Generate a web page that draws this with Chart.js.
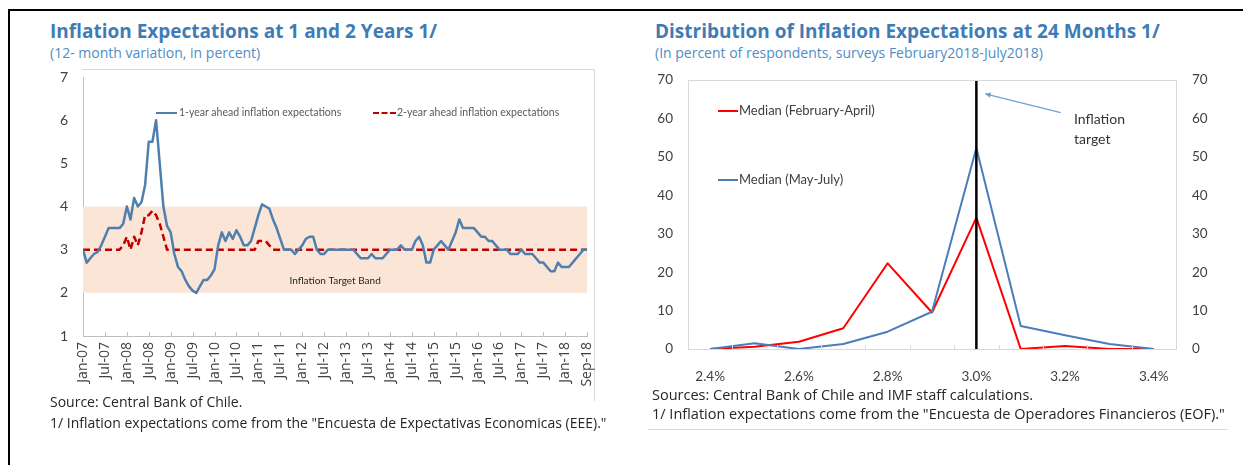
<!DOCTYPE html>
<html>
<head>
<meta charset="utf-8">
<script src="https://cdn.jsdelivr.net/npm/chart.js@4.4.0/dist/chart.umd.min.js"></script>
<style>
  body { margin: 0; width: 1243px; height: 465px; background: #fff; position: relative; overflow: hidden; font-family: "Open Sans", "Noto Sans", sans-serif; }
  .abs { position: absolute; white-space: nowrap; }
  .title { font-weight: bold; font-size: 19px; color: #3f7cb6; }
  .sub { font-size: 14px; color: #4f8dc6; }
  .foot { font-size: 14px; color: #262626; }
  .foot2 { font-size: 14.5px; color: #262626; }
  .leg { font-size: 10.5px; color: #595959; font-family: Lato, sans-serif; }
  .leg2 { font-size: 13px; color: #404040; font-family: Lato, sans-serif; }
  canvas { position: absolute; }
</style>
</head>
<body>
<div class="abs" style="left:8px;top:9px;width:1235px;border-top:2px solid #000"></div>
<div class="abs" style="left:8px;top:9px;height:456px;border-left:2px solid #000"></div>

<!-- left panel -->
<div class="abs title" style="left:50px;top:18px">Inflation Expectations at 1 and 2 Years 1/</div>
<div class="abs sub" style="left:50px;top:43px">(12- month variation, in percent)</div>
<div class="abs" style="left:82px;top:69px;width:512px;height:331px;border-top:1px solid #d9d9d9;border-right:1px solid #d9d9d9"></div>
<canvas id="leftChart" width="570" height="350" style="left:40px;top:60px"></canvas>
<div class="abs" style="left:156px;top:112px;width:21px;border-top:2.5px solid #4e7fae"></div>
<div class="abs leg" style="left:179px;top:106px">1-year ahead inflation expectations</div>
<div class="abs" style="left:373px;top:112px;width:23px;border-top:2.5px dashed #c00000"></div>
<div class="abs leg" style="left:397px;top:106px">2-year ahead inflation expectations</div>
<div class="abs foot" style="left:50px;top:392px">Source: Central Bank of Chile.</div>
<div class="abs foot" style="left:50px;top:413px">1/ Inflation expectations come from the "Encuesta de Expectativas Economicas (EEE)."</div>

<!-- right panel -->
<div class="abs title" style="left:655px;top:18px">Distribution of Inflation Expectations at 24 Months 1/</div>
<div class="abs sub" style="left:655px;top:43px">(In percent of respondents, surveys February2018-July2018)</div>
<canvas id="rightChart" width="600" height="330" style="left:640px;top:65px"></canvas>
<div class="abs" style="left:718px;top:110px;width:20px;border-top:2px solid #ff0000"></div>
<div class="abs leg2" style="left:739px;top:102px">Median (February-April)</div>
<div class="abs" style="left:718px;top:179px;width:20px;border-top:2px solid #4a7ebb"></div>
<div class="abs leg2" style="left:739px;top:171px">Median (May-July)</div>
<div class="abs foot2" style="left:652px;top:385px">Sources: Central Bank of Chile and IMF staff calculations.</div>
<div class="abs foot2" style="left:652px;top:404px">1/ Inflation expectations come from the "Encuesta de Operadores Financieros (EOF)."</div>
<div class="abs" style="left:648px;top:429px;width:580px;border-top:1px solid #d9d9d9"></div>

<script>
// left chart: monthly data Jan-07 .. Jul-18, tick every 6 months
const monthTickLabels = ['Jan-07','Jul-07','Jan-08','Jul-08','Jan-09','Jul-09','Jan-10','Jul-10',
  'Jan-11','Jul-11','Jan-12','Jul-12','Jan-13','Jul-13','Jan-14','Jul-14','Jan-15','Jul-15',
  'Jan-16','Jul-16','Jan-17','Jul-17','Jan-18','Sep-18'];
const oneYearAhead = [
  3.0, 2.7, 2.8, 2.9, 2.95, 3.1, 3.3, 3.5, 3.5, 3.5, 3.5, 3.6,
  4.0, 3.7, 4.2, 4.0, 4.1, 4.5, 5.5, 5.5, 6.0, 5.0, 4.0, 3.55,
  3.4, 2.9, 2.6, 2.5, 2.3, 2.15, 2.05, 2.0, 2.15, 2.3, 2.3, 2.4,
  2.55, 3.1, 3.4, 3.2, 3.4, 3.25, 3.45, 3.3, 3.1, 3.1, 3.2, 3.5,
  3.8, 4.05, 4.0, 3.95, 3.7, 3.5, 3.25, 3.0, 3.0, 3.0, 2.9, 3.0,
  3.1, 3.25, 3.3, 3.3, 3.0, 2.9, 2.9, 3.0, 3.0, 3.0, 3.0, 3.0,
  3.0, 3.0, 3.0, 2.9, 2.8, 2.8, 2.8, 2.9, 2.8, 2.8, 2.8, 2.9,
  3.0, 3.0, 3.0, 3.1, 3.0, 3.0, 3.0, 3.2, 3.3, 3.1, 2.7, 2.7,
  3.0, 3.1, 3.2, 3.1, 3.0, 3.2, 3.4, 3.7, 3.5, 3.5, 3.5, 3.5,
  3.4, 3.3, 3.3, 3.2, 3.2, 3.1, 3.0, 3.0, 3.0, 2.9, 2.9, 2.9,
  3.0, 2.9, 2.9, 2.9, 2.8, 2.7, 2.7, 2.6, 2.5, 2.5, 2.7, 2.6,
  2.6, 2.6, 2.7, 2.8, 2.9, 3.0, 3.0
];
const twoYearAhead = [
  3.0, 3.0, 3.0, 3.0, 3.0, 3.0, 3.0, 3.0, 3.0, 3.0, 3.0, 3.1,
  3.3, 3.0, 3.3, 3.1, 3.4, 3.8, 3.8, 3.9, 3.8, 3.6, 3.3, 3.0,
  3.0, 3.0, 3.0, 3.0, 3.0, 3.0, 3.0, 3.0, 3.0, 3.0, 3.0, 3.0,
  3.0, 3.0, 3.0, 3.0, 3.0, 3.0, 3.0, 3.0, 3.0, 3.0, 3.0, 3.0,
  3.2, 3.2, 3.2, 3.1, 3.0, 3.0, 3.0, 3.0, 3.0, 3.0, 3.0, 3.0,
  3.0, 3.0, 3.0, 3.0, 3.0, 3.0, 3.0, 3.0, 3.0, 3.0, 3.0, 3.0,
  3.0, 3.0, 3.0, 3.0, 3.0, 3.0, 3.0, 3.0, 3.0, 3.0, 3.0, 3.0,
  3.0, 3.0, 3.0, 3.0, 3.0, 3.0, 3.0, 3.0, 3.0, 3.0, 3.0, 3.0,
  3.0, 3.0, 3.0, 3.0, 3.0, 3.0, 3.0, 3.0, 3.0, 3.0, 3.0, 3.0,
  3.0, 3.0, 3.0, 3.0, 3.0, 3.0, 3.0, 3.0, 3.0, 3.0, 3.0, 3.0,
  3.0, 3.0, 3.0, 3.0, 3.0, 3.0, 3.0, 3.0, 3.0, 3.0, 3.0, 3.0,
  3.0, 3.0, 3.0, 3.0, 3.0, 3.0, 3.0
];
const bandLow = 2;
const bandHigh = 4;

// right chart
const rateCategories = ['2.4%','2.5%','2.6%','2.7%','2.8%','2.9%','3.0%','3.1%','3.2%','3.3%','3.4%'];
const medianFebApr = [0, 0.6, 1.9, 5.4, 22.3, 9.5, 34.2, 0, 0.8, 0, 0];
const medianMayJul = [0, 1.5, 0, 1.3, 4.5, 9.7, 52.3, 6.0, 3.6, 1.3, 0];
const targetRate = '3.0%';

const lastIdx = oneYearAhead.length - 1;
const toPts = arr => arr.map((v, i) => ({ x: i, y: v }));
// vertical scales: drop the extra label padding so layout.padding decides the top
const noPad = w => s => { s.width = w; s.paddingTop = 0; s.paddingBottom = 0; };

const leftExtras = {
  id: 'leftExtras',
  afterDraw(chart) {
    const { ctx, scales: { x, y } } = chart;
    ctx.save();
    ctx.strokeStyle = '#bfbfbf';
    ctx.lineWidth = 1;
    x.ticks.forEach(t => {
      const px = Math.round(x.getPixelForValue(t.value)) + 0.5;
      ctx.beginPath();
      ctx.moveTo(px, y.bottom);
      ctx.lineTo(px, y.bottom - 4);
      ctx.stroke();
    });
    ctx.fillStyle = '#262626';
    ctx.font = '10px Lato, "Noto Sans", sans-serif';
    ctx.textAlign = 'center';
    ctx.textBaseline = 'middle';
    ctx.fillText('Inflation Target Band', x.getPixelForValue(69), y.getPixelForValue(2.27));
    ctx.restore();
  }
};

new Chart(document.getElementById('leftChart'), {
  type: 'line',
  data: {
    datasets: [
      { data: toPts(twoYearAhead), borderColor: '#c00000', borderWidth: 2.5, borderDash: [7, 4],
        borderJoinStyle: 'round', pointRadius: 0, tension: 0, fill: false, order: 1 },
      { data: toPts(oneYearAhead), borderColor: '#4e7fae', borderWidth: 2.5, borderJoinStyle: 'round',
        pointRadius: 0, tension: 0, fill: false, order: 0 },
      { data: [{ x: 0, y: bandHigh }, { x: lastIdx, y: bandHigh }], borderWidth: 0, borderColor: 'rgba(0,0,0,0)',
        backgroundColor: '#fbe5d6', pointRadius: 0, fill: '+1', order: 3 },
      { data: [{ x: 0, y: bandLow }, { x: lastIdx, y: bandLow }], borderWidth: 0, borderColor: 'rgba(0,0,0,0)',
        pointRadius: 0, fill: false, order: 3 }
    ]
  },
  options: {
    responsive: false,
    animation: false,
    layout: { padding: { top: 17, right: 22, left: 0, bottom: 0 } },
    plugins: { legend: { display: false }, tooltip: { enabled: false } },
    scales: {
      x: {
        type: 'linear', min: 0, max: lastIdx,
        afterBuildTicks: s => { s.ticks = monthTickLabels.map((l, i) => ({ value: i * 6 })); },
        afterFit: s => { s.height = 74; },
        grid: { display: false, drawTicks: false },
        border: { display: true, color: '#bfbfbf' },
        ticks: {
          autoSkip: false, minRotation: 90, maxRotation: 90, padding: 6,
          color: '#404040', font: { size: 14, family: '"Open Sans", "Noto Sans", sans-serif' },
          callback: v => monthTickLabels[Math.round(v / 6)]
        }
      },
      y: {
        min: 1, max: 7,
        afterFit: noPad(43),
        grid: { display: false, drawTicks: false },
        border: { display: true, color: '#bfbfbf' },
        ticks: { stepSize: 1, padding: 15, color: '#404040', font: { size: 14, family: 'Lato, "Noto Sans", sans-serif' } }
      }
    }
  },
  plugins: [leftExtras]
});

const rightExtras = {
  id: 'rightExtras',
  afterDraw(chart) {
    const { ctx, chartArea: a, scales: { x, y } } = chart;
    ctx.save();
    ctx.strokeStyle = '#d9d9d9';
    ctx.lineWidth = 1;
    ctx.strokeRect(a.left + 0.5, a.top + 0.5, a.right - a.left, a.bottom - a.top);
    // inner tick marks between categories
    for (let i = 0; i <= rateCategories.length; i++) {
      const px = Math.round(x.getPixelForValue(i - 0.5)) + 0.5;
      ctx.beginPath();
      ctx.moveTo(px, a.bottom);
      ctx.lineTo(px, a.bottom - 4);
      ctx.stroke();
    }
    // inflation target annotation
    const tx = x.getPixelForValue(7.9), ty = y.getPixelForValue(61.5);
    const hx = x.getPixelForValue(6.2), hy = y.getPixelForValue(66.4);
    ctx.strokeStyle = '#6fa0d6';
    ctx.fillStyle = '#6fa0d6';
    ctx.lineWidth = 1.2;
    ctx.beginPath();
    ctx.moveTo(tx, ty);
    ctx.lineTo(hx, hy);
    ctx.stroke();
    const ang = Math.atan2(hy - ty, hx - tx);
    ctx.beginPath();
    ctx.moveTo(hx, hy);
    ctx.lineTo(hx - 6 * Math.cos(ang - 0.45), hy - 6 * Math.sin(ang - 0.45));
    ctx.lineTo(hx - 6 * Math.cos(ang + 0.45), hy - 6 * Math.sin(ang + 0.45));
    ctx.closePath();
    ctx.fill();
    ctx.fillStyle = '#333';
    ctx.font = '14px Lato, "Noto Sans", sans-serif';
    ctx.textAlign = 'left';
    ctx.textBaseline = 'middle';
    const lx = x.getPixelForValue(8.2);
    ctx.fillText('Inflation', lx, y.getPixelForValue(59.6));
    ctx.fillText('target', lx, y.getPixelForValue(54.4));
    ctx.restore();
  }
};

const tickFont = { size: 13.5, family: 'Lato, "Noto Sans", sans-serif' };
new Chart(document.getElementById('rightChart'), {
  type: 'line',
  data: {
    labels: rateCategories,
    datasets: [
      { data: [{ x: targetRate, y: 0 }, { x: targetRate, y: 70 }], borderColor: '#000', borderWidth: 2.5,
        pointRadius: 0, order: 0 },
      { data: medianMayJul, borderColor: '#4a7ebb', borderWidth: 2, borderJoinStyle: 'round',
        pointRadius: 0, tension: 0, order: 1 },
      { data: medianFebApr, borderColor: '#ff0000', borderWidth: 2, borderJoinStyle: 'round',
        pointRadius: 0, tension: 0, order: 2 }
    ]
  },
  options: {
    responsive: false,
    animation: false,
    layout: { padding: { top: 15, right: 0, left: 0, bottom: 0 } },
    plugins: { legend: { display: false }, tooltip: { enabled: false } },
    scales: {
      x: {
        type: 'category', offset: true,
        afterFit: s => { s.height = 46; },
        grid: { display: false, drawTicks: false },
        border: { display: false },
        ticks: { autoSkip: false, maxRotation: 0, padding: 20, color: '#404040', font: tickFont,
          callback: (v, i) => (i % 2 === 0 ? rateCategories[i] : '') }
      },
      y: {
        min: 0, max: 70, position: 'left',
        afterFit: noPad(48),
        grid: { display: false, drawTicks: false },
        border: { display: false },
        ticks: { stepSize: 10, padding: 15, color: '#404040', font: tickFont }
      },
      y2: {
        min: 0, max: 70, position: 'right',
        afterFit: noPad(64),
        grid: { display: false, drawTicks: false },
        border: { display: false },
        ticks: { stepSize: 10, padding: 16, color: '#404040', font: tickFont }
      }
    }
  },
  plugins: [rightExtras]
});
</script>
</body>
</html>
